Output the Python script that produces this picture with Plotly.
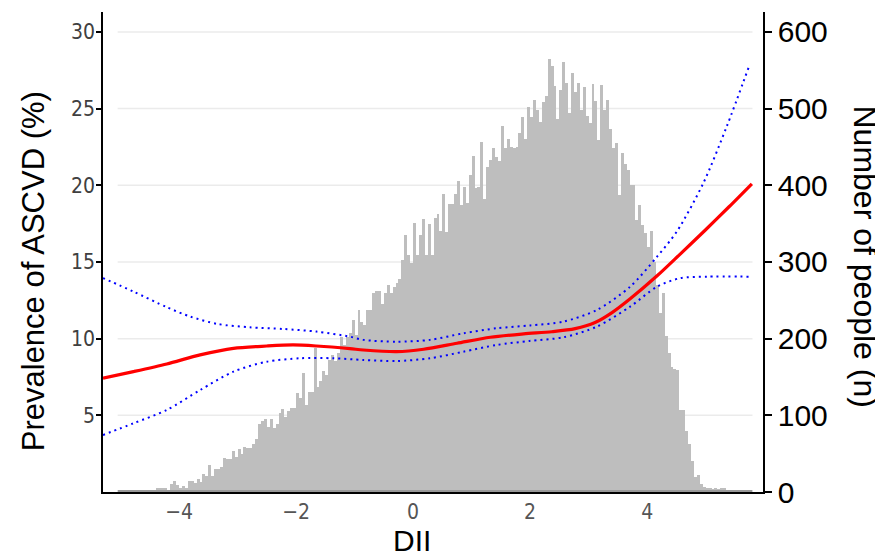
import numpy as np
import plotly.graph_objects as go

# ---- Data ----
bin_start = -5.05
bin_width = 0.05
counts = [
    2, 2, 2, 3, 2, 2, 2, 3, 3, 3, 3, 3, 3, 5, 5, 5, 5, 3, 11, 14, 9, 5, 8, 5,
    14, 14, 12, 17, 13, 23, 21, 35, 21, 30, 30, 32, 45, 43, 43, 54, 46, 56,
    50, 59, 57, 58, 62, 69, 89, 92, 95, 85, 95, 83, 89, 103, 108, 98, 106, 109,
    109, 129, 123, 155, 113, 131, 131, 188, 137, 145, 158, 153, 172, 179, 171,
    181, 202, 192, 202, 207, 224, 205, 237, 222, 218,
    238, 238, 259, 262, 262, 245, 260, 270, 260, 268, 272, 278, 302, 335, 309,
    299, 351, 309, 335, 356, 309, 349, 309, 357, 362, 340, 388, 339, 375, 375,
    388, 405, 374, 398, 377, 413, 438, 396, 398, 456, 382, 424,
    433, 448, 437, 432, 477, 449, 460, 450, 448, 450, 468, 489, 461, 502, 489,
    511, 498, 483, 508, 516, 565, 555, 529, 486, 524, 561, 533, 494, 547, 522,
    534, 498, 528, 490, 481, 532, 510, 459, 531, 498, 511, 474, 448, 455, 387,
    442, 428, 420, 400, 400, 355, 374, 348, 338, 320, 340, 300, 270, 233, 259,
    203, 181, 163, 161, 159, 107, 107, 80, 62, 40, 20, 22, 10, 7, 5, 5, 4, 5,
    4, 5, 5, 3, 2, 3, 3, 2, 3, 2, 2, 3,
]

fit_x = [-5.3, -4.78, -4.21, -3.64, -3.07, -2.50, -2.05, -1.65, -1.08, -0.85,
         -0.28, 0.18, 0.75, 1.32, 1.89, 2.37, 2.77, 3.11, 3.40, 3.71, 4.17,
         4.56, 5.0, 5.4, 5.79]
fit_y = [7.42, 7.85, 8.35, 8.94, 9.37, 9.52, 9.59, 9.52, 9.35, 9.26,
         9.15, 9.31, 9.70, 10.09, 10.31, 10.45, 10.65, 11.05, 11.7, 12.6, 14.1,
         15.5, 17.1, 18.6, 20.1]

upper_x = [-5.3, -4.78, -4.21, -3.81, -3.35, -2.79, -2.22, -1.65, -1.08, -0.85,
           -0.28, 0.29, 0.86, 1.43, 2.0, 2.57, 3.14, 3.71, 4.17, 4.51,
           4.96, 5.36, 5.75]
upper_y = [13.95, 13.07, 12.05, 11.44, 10.96, 10.74, 10.63, 10.46, 10.13, 9.92,
           9.80, 9.92, 10.35, 10.68, 10.86, 11.11, 11.87, 13.39, 15.35, 17.0,
           20.14, 23.83, 27.85]

lower_x = [-5.3, -4.78, -4.21, -3.64, -3.07, -2.50, -1.93, -1.36, -0.85, -0.28,
           0.29, 0.86, 1.43, 1.99, 2.57, 3.14, 3.71, 4.17, 4.56, 5.02, 5.79]
lower_y = [3.72, 4.48, 5.35, 6.65, 7.85, 8.50, 8.72, 8.72, 8.61, 8.54,
           8.72, 9.15, 9.59, 9.85, 10.09, 10.78, 12.09, 13.39, 13.94, 14.04, 14.04]

x_ticks = [-4, -2, 0, 2, 4]
left_ticks = [5, 10, 15, 20, 25, 30]
right_ticks = [0, 100, 200, 300, 400, 500, 600]

# ---- Figure ----
centers = bin_start + bin_width * (np.arange(len(counts)) + 0.5)
bin_end = bin_start + bin_width * len(counts)

fig = go.Figure()
fig.add_trace(go.Bar(x=centers, y=counts, width=bin_width,
                     marker=dict(color="#bebebe", line=dict(width=0)),
                     yaxis="y", showlegend=False, hoverinfo="skip"))
for ux, uy in ((upper_x, upper_y), (lower_x, lower_y)):
    fig.add_trace(go.Scatter(x=ux, y=uy, mode="lines", yaxis="y2",
                             line=dict(color="#0000ff", width=2, dash="2px,4px",
                                       shape="spline", smoothing=0.8),
                             showlegend=False, hoverinfo="skip"))
fig.add_trace(go.Scatter(x=fit_x, y=fit_y, mode="lines", yaxis="y2",
                         line=dict(color="#ff0000", width=3.2, shape="spline", smoothing=0.8),
                         showlegend=False, hoverinfo="skip"))

left_max = 31.3
shapes = []
for t in left_ticks:
    shapes.append(dict(type="line", xref="x", yref="y", x0=bin_start, x1=bin_end,
                       y0=t * 20, y1=t * 20, layer="below",
                       line=dict(color="#ebebeb", width=1.5)))
shapes.append(dict(type="line", xref="x", yref="y", x0=bin_start, x1=bin_end,
                   y0=1.2, y1=1.2, layer="above",
                   line=dict(color="#8c8c8c", width=1.5)))

narrow = "Liberation Sans Narrow, DejaVu Sans Condensed, Arial Narrow, sans-serif"
fig.update_layout(
    width=875, height=548,
    margin=dict(l=95, r=120, t=4, b=64, autoexpand=False),
    paper_bgcolor="white", plot_bgcolor="white",
    bargap=0,
    hovermode=False,
    shapes=shapes,
    xaxis=dict(range=[-5.3, 5.98], tickvals=x_ticks, showgrid=False, zeroline=False,
               showline=True, linecolor="black", linewidth=1.5, ticks="", automargin=False,
               tickfont=dict(family=narrow, size=21, color="#555555")),
    yaxis=dict(range=[0, left_max * 20], side="right", tickvals=right_ticks, automargin=False,
               showgrid=False, zeroline=False, showline=True, linecolor="black", linewidth=1.5,
               ticks="outside", ticklen=7, tickcolor="black", tickwidth=1.5,
               ticklabelstandoff=0,
               tickfont=dict(family="Liberation Sans, Arial", size=30, color="black")),
    yaxis2=dict(range=[0, left_max], side="left", overlaying="y", tickvals=left_ticks,
                automargin=False,
                showgrid=False, zeroline=False, showline=True, linecolor="black", linewidth=1.5,
                ticks="outside", ticklen=5, tickcolor="black", tickwidth=1.5,
                ticklabelstandoff=-3,
                tickfont=dict(family=narrow, size=21, color="#404040")),
    annotations=[
        dict(text="Prevalence of ASCVD (%)", xref="paper", yref="paper", x=-0.106, y=0.46,
             textangle=-90, showarrow=False, xanchor="center", yanchor="middle",
             font=dict(family="Liberation Sans, Arial", size=31, color="black")),
        dict(text="Number of people (n)", xref="paper", yref="paper", x=1.155, y=0.49,
             textangle=90, showarrow=False, xanchor="center", yanchor="middle",
             font=dict(family="Liberation Sans, Arial", size=32, color="black")),
        dict(text="DII", xref="paper", yref="paper", x=0.468, y=-0.1,
             showarrow=False, xanchor="center", yanchor="middle",
             font=dict(family="Liberation Sans, Arial", size=30, color="black")),
    ],
)

fig.write_html("out.html")
